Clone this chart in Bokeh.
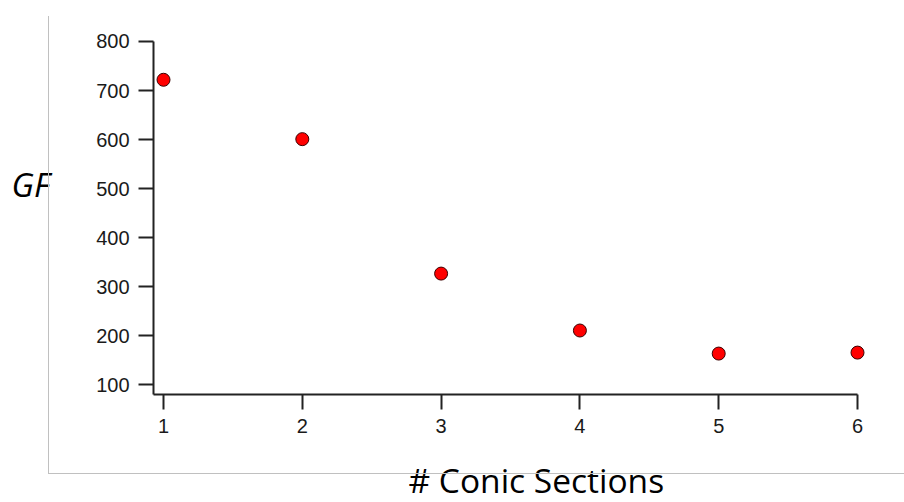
from bokeh.plotting import figure
from bokeh.models import Range1d, Label, FixedTicker, InlineStyleSheet
from bokeh.embed import file_html
from bokeh.resources import INLINE

# data
sections = [1, 2, 3, 4, 5, 6]
gf_values = [722, 601, 327, 211, 164, 166]
y_ticks = [100, 200, 300, 400, 500, 600, 700, 800]
x_ticks = [1, 2, 3, 4, 5, 6]
x_title = "# Conic Sections"
y_title = "GF"

W, H = 904, 502
css = InlineStyleSheet(css=""":host { position: relative; }
:host::after { content: ""; position: absolute; left: 48px; top: 16px; width: 856px; height: 458px;
  border-left: 1px solid #c0c0c0; border-bottom: 1px solid #c0c0c0; box-sizing: border-box; pointer-events: none; }""")

X_LOW, X_HIGH = 0.928, 6
Y_LOW, Y_HIGH = 80.6, 800
p = figure(width=W, height=H, output_backend="svg", toolbar_location=None,
           x_range=Range1d(-0.1744, 6.3386), y_range=Range1d(-139.5, 883.55),
           min_border_left=0, min_border_right=0, min_border_top=0, min_border_bottom=0,
           stylesheets=[css])
p.grid.visible = False
p.outline_line_color = None
p.background_fill_color = "white"
p.border_fill_color = "white"

for ax in (p.xaxis[0], p.yaxis[0]):
    ax.axis_line_width = 2
    ax.axis_line_color = "#222222"
    ax.major_tick_line_width = 2
    ax.major_tick_line_color = "#222222"
    ax.major_tick_out = 15
    ax.major_tick_in = 0
    ax.minor_tick_line_color = None
    ax.major_label_text_font = "Liberation Sans"
    ax.major_label_text_font_size = "20px"
    ax.major_label_text_color = "#1a1a1a"

p.xaxis[0].ticker = FixedTicker(ticks=x_ticks)
p.yaxis[0].ticker = FixedTicker(ticks=y_ticks)
p.xaxis[0].bounds = (X_LOW, X_HIGH)
p.xaxis[0].fixed_location = Y_LOW
p.yaxis[0].bounds = (Y_LOW, Y_HIGH)
p.yaxis[0].fixed_location = X_LOW
p.xaxis[0].major_label_standoff = 10
p.yaxis[0].major_label_standoff = 9

p.add_layout(Label(x=255 + 153, y=23, x_units="screen", y_units="screen", text=x_title,
                   text_font="Open Sans", text_font_size="33.5px", text_align="left",
                   text_baseline="alphabetic", text_color="#000000"))
p.add_layout(Label(x=11, y=318, x_units="screen", y_units="screen", text=y_title,
                   text_font="Open Sans", text_font_size="33px", text_font_style="italic",
                   text_align="left", text_baseline="alphabetic", text_color="#000000"))

p.scatter(sections, gf_values, size=13, fill_color="#ff0000", line_color="#3a0000", line_width=1)

open("out.html", "w").write(file_html(p, INLINE))
